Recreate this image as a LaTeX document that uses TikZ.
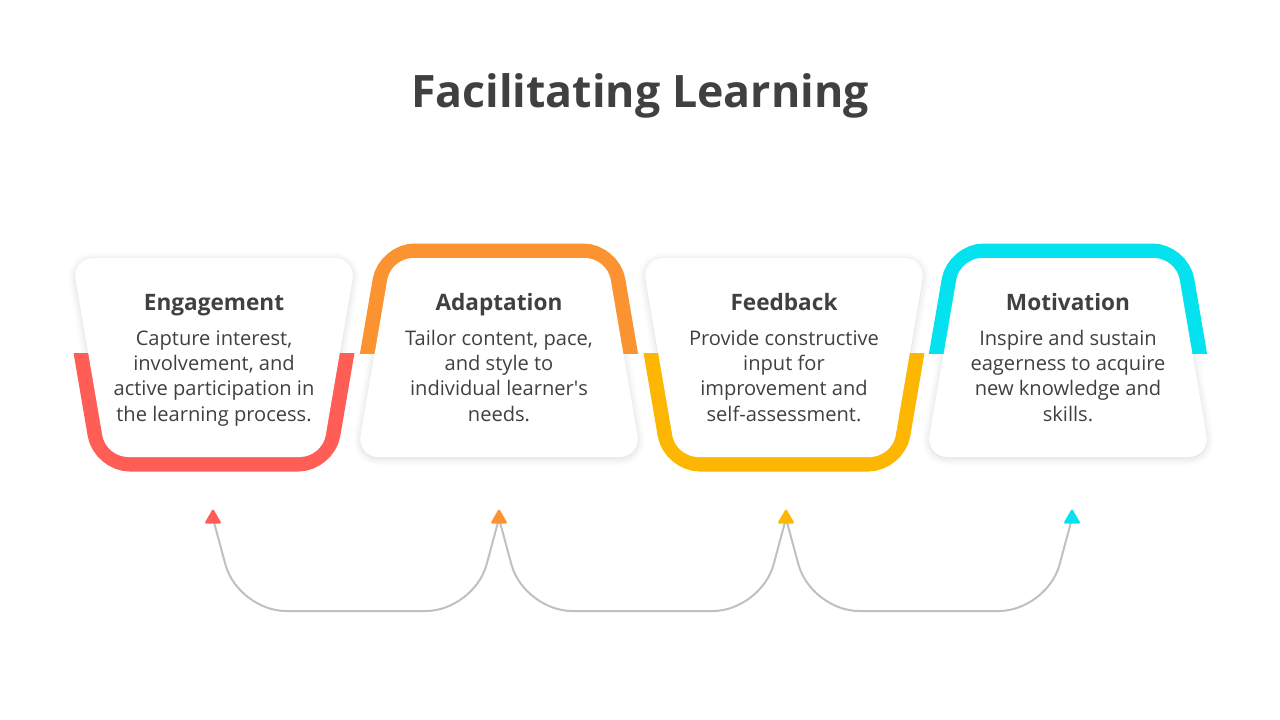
\documentclass[tikz,border=0pt]{standalone}
\usepackage{fontspec}
\setmainfont{Open Sans}
\usetikzlibrary{shapes.geometric,shadows.blur,backgrounds,calc}
\definecolor{cRed}{HTML}{FF5E57}
\definecolor{cOrange}{HTML}{FB9331}
\definecolor{cYellow}{HTML}{FDB702}
\definecolor{cCyan}{HTML}{03E2EE}
\definecolor{txt}{HTML}{404040}
\definecolor{conn}{HTML}{C0C0C0}
\tikzset{
  cardshadow/.style={fill=white, rounded corners=22pt,
    blur shadow={shadow xshift=0pt, shadow yshift=-1.5pt, shadow blur radius=7pt, shadow opacity=16}},
  cardfill/.style={fill=white, rounded corners=22pt},
  band/.style={draw=#1, line width=29pt, rounded corners=24pt},
  titletext/.style={font=\fontsize{44.7}{50}\selectfont\bfseries, text=txt, inner sep=0pt},
  headtext/.style={font=\fontsize{22.6}{25}\selectfont\bfseries, text=txt, inner sep=0pt},
  bodytext/.style={font=\fontsize{20.1}{25.3}\selectfont, text=txt, align=center, inner sep=0pt},
  tip/.style={regular polygon, regular polygon sides=3, fill=#1, minimum size=20pt, inner sep=0pt, rounded corners=1.5pt},
  connector/.style={draw=conn, line width=2pt, rounded corners=48pt},
}
% card with wide top and band at the bottom
\newcommand{\cardDown}[2]{%
  \fill[cardshadow] ({#1-142},258) -- ({#1+142},258) -- ({#1+108},457) -- ({#1-108},457) -- cycle;
  \begin{scope}
    \clip ({#1-175},353) rectangle ({#1+175},490);
    \draw[band=#2] ({#1-142},258) -- ({#1+142},258) -- ({#1+108},457) -- ({#1-108},457) -- cycle;
  \end{scope}
  \fill[cardfill] ({#1-142},258) -- ({#1+142},258) -- ({#1+108},457) -- ({#1-108},457) -- cycle;
}
% card with wide bottom and band at the top
\newcommand{\cardUp}[2]{%
  \fill[cardshadow] ({#1-108},258) -- ({#1+108},258) -- ({#1+142},457) -- ({#1-142},457) -- cycle;
  \begin{scope}
    \clip ({#1-175},230) rectangle ({#1+175},353);
    \draw[band=#2] ({#1-108},258) -- ({#1+108},258) -- ({#1+142},457) -- ({#1-142},457) -- cycle;
  \end{scope}
  \fill[cardfill] ({#1-108},258) -- ({#1+108},258) -- ({#1+142},457) -- ({#1-142},457) -- cycle;
}
\begin{document}
\begin{tikzpicture}[x=1pt,y=-1pt]
\useasboundingbox (0,0) rectangle (1280,720);

\node[titletext, anchor=base] (title) at (640,107) {Facilitating Learning};

\cardDown{214}{cRed}
\cardUp{499}{cOrange}
\cardDown{784}{cYellow}
\cardUp{1068}{cCyan}

\node[headtext, anchor=base] (h1) at (214,310) {Engagement};
\node[bodytext, anchor=base] (b1) at (214,421) {Capture interest,\\involvement, and\\active participation in\\the learning process.};
\node[headtext, anchor=base] (h2) at (499,310) {Adaptation};
\node[bodytext, anchor=base] (b2) at (499,421) {Tailor content, pace,\\and style to\\individual learner\textquotesingle s\\needs.};
\node[headtext, anchor=base] (h3) at (784,310) {Feedback};
\node[bodytext, anchor=base] (b3) at (784,421) {Provide constructive\\input for\\improvement and\\self-assessment.};
\node[headtext, anchor=base] (h4) at (1068,310) {Motivation};
\node[bodytext, anchor=base] (b4) at (1068,421) {Inspire and sustain\\eagerness to acquire\\new knowledge and\\skills.};

\node[tip=cRed] (t1) at (213,518.5) {};
\node[tip=cOrange] (t2) at (499,518.5) {};
\node[tip=cYellow] (t3) at (786,518.5) {};
\node[tip=cCyan] (t4) at (1072,518.5) {};

\begin{scope}[on background layer]
  \draw[connector] (t1.center) -- ++(25,92.5) -- ($(t2.center)+(-25,92.5)$) -- (t2.center);
  \draw[connector] (t2.center) -- ++(25,92.5) -- ($(t3.center)+(-25,92.5)$) -- (t3.center);
  \draw[connector] (t3.center) -- ++(25,92.5) -- ($(t4.center)+(-25,92.5)$) -- (t4.center);
\end{scope}
\end{tikzpicture}
\end{document}
